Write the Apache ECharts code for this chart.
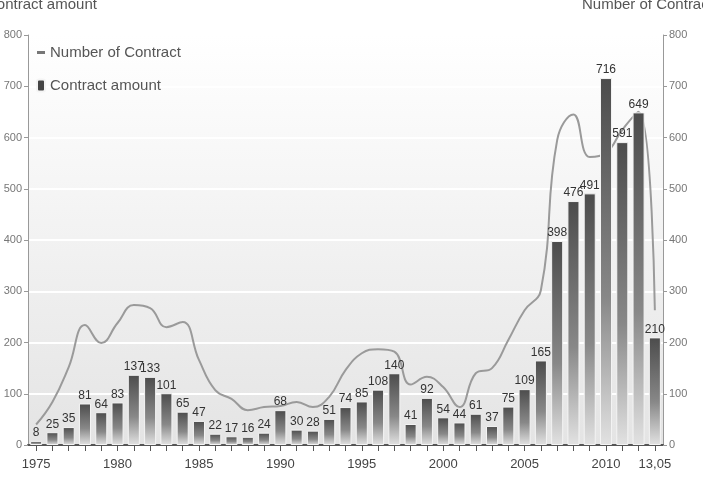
<!DOCTYPE html>
<html><head><meta charset="utf-8">
<script src="https://cdn.jsdelivr.net/npm/echarts@6/dist/echarts.min.js"></script>
<style>html,body{margin:0;padding:0;background:#fff}#c{width:703px;height:488px}</style>
</head><body><div id="c"></div>
<script>
const years = ['1975','1976','1977','1978','1979','1980','1981','1982','1983','1984','1985','1986','1987','1988','1989','1990','1991','1992','1993','1994','1995','1996','1997','1998','1999','2000','2001','2002','2003','2004','2005','2006','2007','2008','2009','2010','2011','2012','13,05'];
const contractAmount = [8,25,35,81,64,83,137,133,101,65,47,22,17,16,24,68,30,28,51,74,85,108,140,41,92,54,44,61,37,75,109,165,398,476,491,716,591,649,210];
const numberOfContract = [40,84,152,234,199,238,273,267,230,240,166,107,90,68,74,76,84,74,94,146,179,187,182,118,133,113,74,140,150,205,263,302,595,645,562,570,615,650,263];
const yTicks = [0,100,200,300,400,500,600,700,800];

const font = "'Liberation Sans Narrow','Arial Narrow','Liberation Sans',Arial,sans-serif";
const chart = echarts.init(document.getElementById('c'));
chart.setOption({
  animation:false,
  backgroundColor:'#fff',
  grid:{left:28,right:40,top:35,bottom:43,show:true,borderWidth:0,containLabel:false,outerBoundsMode:'none',
    backgroundColor:{type:'linear',x:0,y:0,x2:0,y2:1,colorStops:[{offset:0,color:'#ffffff'},{offset:0.35,color:'#f6f6f6'},{offset:1,color:'#e4e4e4'}]}},
  legend:{orient:'vertical',left:31,top:40,itemGap:18,itemWidth:8,itemHeight:12,
    textStyle:{fontFamily:font,fontSize:15,color:'#555'},
    data:[{name:'Number of Contract',icon:'path://M0,0h8v3h-8z',itemStyle:{color:'#777'}},{name:'Contract amount',icon:'roundRect',itemStyle:{color:'#444'}}]},
  xAxis:{type:'category',data:years,boundaryGap:true,
    axisLine:{lineStyle:{color:'#555',width:2}},
    axisTick:{show:true,interval:0,alignWithLabel:true,length:6,lineStyle:{color:'#555'}},
    axisLabel:{interval:function(i){return i%5===0||i===years.length-1;},fontFamily:font,fontSize:13,color:'#444',margin:13}},
  yAxis:[
    {type:'value',min:0,max:800,interval:100,name:'Contract amount',nameLocation:'end',nameGap:23,
     nameTextStyle:{fontFamily:font,fontSize:15,color:'#555',align:'left',padding:[0,0,0,-42]},
     axisLine:{show:true,lineStyle:{color:'#999'}},axisTick:{show:true,length:4,lineStyle:{color:'#999'}},
     axisLabel:{fontFamily:font,fontSize:11,color:'#777',margin:6,formatter:v=>yTicks.includes(v)?String(v):''},
     splitLine:{show:true,lineStyle:{color:'#ffffff',width:2}}},
    {type:'value',min:0,max:800,interval:100,name:'Number of Contract',nameLocation:'end',nameGap:23,
     nameTextStyle:{fontFamily:font,fontSize:15,color:'#555',align:'left',padding:[0,0,0,-81]},
     axisLine:{show:true,lineStyle:{color:'#999'}},axisTick:{show:true,length:4,lineStyle:{color:'#999'}},
     axisLabel:{fontFamily:font,fontSize:11,color:'#777',margin:6},
     splitLine:{show:false}}
  ],
  series:[
    {name:'Contract amount',type:'bar',yAxisIndex:0,data:contractAmount,barWidth:'74%',
     itemStyle:{borderColor:'#f4f4f4',borderWidth:1,
       color:{type:'linear',x:0,y:0,x2:0,y2:1,colorStops:[{offset:0,color:'#4c4c4c'},{offset:0.6,color:'#888888'},{offset:1,color:'#e2e2e2'}]}},
     label:{show:true,position:'top',distance:2,fontFamily:font,fontSize:12,color:'#333'},z:2},
    {name:'Number of Contract',type:'line',yAxisIndex:1,data:numberOfContract,smooth:0.45,symbol:'none',
     lineStyle:{color:'#9a9a9a',width:2},itemStyle:{color:'#9a9a9a'},z:1}
  ]
});
</script></body></html>
